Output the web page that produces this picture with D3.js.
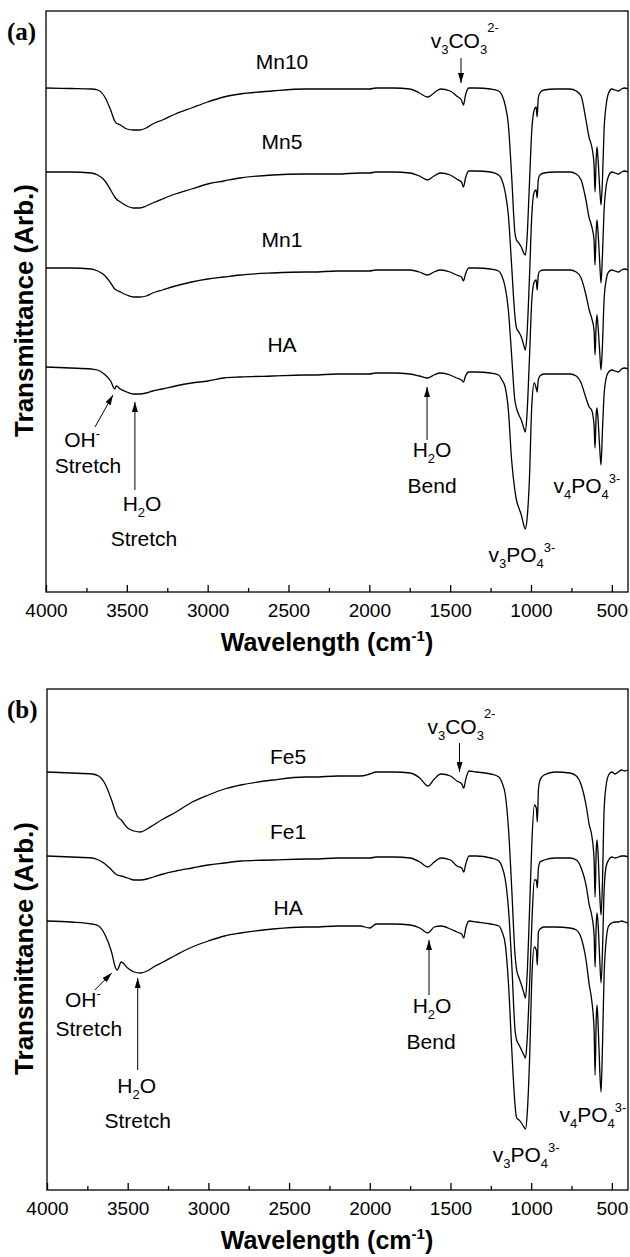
<!DOCTYPE html>
<html>
<head>
<meta charset="utf-8">
<script src="https://cdn.jsdelivr.net/npm/d3@7/dist/d3.min.js"></script>
<style>
  body { margin: 0; background: #fff; }
  text { font-family: "Liberation Sans", Arial, sans-serif; fill: #000; }
</style>
</head>
<body>
<svg id="chart" width="630" height="1257"></svg>
<script>
// shared wavenumber grid (cm-1)
const wavenumbers = [4000, 3850, 3720, 3680, 3640, 3600, 3575, 3565, 3540, 3500,
    3460, 3420, 3380, 3340, 3280, 3200, 3100, 3000, 2900, 2800,
    2600, 2400, 2350, 2200, 2060, 2000, 1960, 1850, 1750, 1690,
    1640, 1600, 1560, 1500, 1460, 1430, 1418, 1405, 1385, 1340,
    1250, 1200, 1180, 1160, 1140, 1120, 1100, 1090, 1075, 1060,
    1045, 1035, 1025, 1010, 995, 980, 968, 962, 955, 945,
    920, 850, 760, 720, 690, 660, 640, 625, 610, 604,
    597, 592, 585, 575, 567, 558, 548, 535, 520, 500,
    480, 460, 440, 420, 400];

// panel (a): offset transmittance, arb. units
const mn10 = [50.4, 50.35, 50.3, 50.2, 49.6, 48.2, 47.1, 46.9, 46.7, 46.3,
    46.2, 46.2, 46.4, 46.8, 47.2, 47.8, 48.4, 49.0, 49.5, 49.8,
    50.1, 50.3, 50.3, 50.3, 50.3, 50.3, 50.4, 50.4, 50.3, 49.9,
    49.5, 49.9, 50.3, 50.1, 49.6, 49.2, 48.7, 49.7, 50.4, 50.4,
    50.3, 50.1, 49.7, 48.7, 46.7, 41.7, 36.0, 35.2, 34.9, 34.5,
    33.9, 33.7, 35.2, 40.7, 46.2, 48.2, 48.5, 47.5, 49.4, 49.9,
    50.2, 50.3, 50.3, 50.1, 49.6, 47.2, 45.4, 44.6, 42.7, 40.0,
    43.2, 44.5, 43.2, 40.4, 38.7, 41.2, 46.2, 48.7, 49.9, 50.3,
    50.2, 50.1, 50.3, 50.4, 50.3];
const mn5 = [42.0, 42.0, 41.9, 41.7, 41.2, 40.2, 39.5, 39.3, 39.0, 38.6,
    38.4, 38.4, 38.6, 38.9, 39.3, 39.8, 40.3, 40.8, 41.1, 41.4,
    41.7, 41.8, 41.8, 41.8, 41.9, 41.9, 42.0, 42.0, 41.9, 41.6,
    41.2, 41.6, 41.9, 41.7, 41.3, 41.0, 40.5, 41.4, 42.1, 42.1,
    42.0, 41.7, 41.2, 40.0, 37.7, 32.7, 27.7, 26.4, 26.0, 25.5,
    24.7, 24.2, 25.7, 31.2, 37.7, 40.0, 40.2, 39.4, 41.2, 41.7,
    41.9, 42.0, 42.0, 41.8, 41.2, 39.2, 37.4, 36.6, 35.2, 32.7,
    36.0, 37.2, 35.9, 33.0, 30.9, 33.7, 38.2, 40.6, 41.6, 42.0,
    41.9, 41.8, 42.0, 42.1, 42.0];
const mn1 = [32.4, 32.4, 32.3, 32.1, 31.7, 30.9, 30.3, 30.2, 30.0, 29.7,
    29.5, 29.5, 29.6, 29.9, 30.2, 30.6, 31.0, 31.3, 31.5, 31.7,
    31.9, 32.0, 32.0, 32.1, 32.1, 32.1, 32.2, 32.2, 32.2, 32.0,
    31.7, 32.0, 32.2, 32.0, 31.7, 31.5, 31.1, 31.8, 32.4, 32.4,
    32.3, 32.1, 31.6, 30.5, 28.2, 23.7, 19.2, 18.4, 17.7, 17.2,
    16.4, 16.0, 17.7, 23.2, 29.2, 31.0, 31.2, 30.2, 31.7, 32.1,
    32.2, 32.2, 32.2, 32.0, 31.4, 29.7, 28.2, 27.4, 26.2, 23.7,
    26.7, 27.7, 26.5, 24.0, 22.2, 24.7, 29.2, 31.2, 32.0, 32.2,
    32.1, 32.0, 32.2, 32.3, 32.2];
const haA = [22.5, 22.4, 22.3, 22.2, 21.8, 21.1, 20.3, 20.6, 20.3, 20.0,
    19.8, 19.8, 19.9, 20.1, 20.3, 20.6, 20.9, 21.1, 21.4, 21.5,
    21.6, 21.7, 21.7, 21.8, 21.8, 21.8, 21.9, 21.9, 21.8, 21.6,
    21.4, 21.7, 21.9, 21.7, 21.4, 21.2, 21.0, 21.6, 22.0, 22.0,
    21.9, 21.7, 21.2, 20.5, 18.2, 13.2, 10.2, 9.2, 8.4, 7.7,
    6.7, 6.3, 7.2, 11.2, 18.7, 20.9, 20.4, 20.0, 21.2, 21.6,
    21.8, 21.8, 21.8, 21.6, 20.9, 19.4, 18.5, 18.2, 16.7, 14.4,
    17.7, 18.4, 17.2, 14.4, 12.7, 16.2, 19.7, 21.4, 22.0, 22.2,
    22.1, 22.0, 22.3, 22.4, 22.3];

// panel (b)
const fe5 = [41.8, 41.7, 41.6, 41.4, 40.6, 39.0, 37.8, 37.4, 37.0, 36.2,
    35.9, 35.8, 36.1, 36.5, 37.1, 37.8, 38.8, 39.5, 40.1, 40.5,
    41.0, 41.3, 41.3, 41.4, 41.4, 41.6, 41.8, 41.8, 41.7, 41.2,
    40.4, 41.1, 41.6, 41.4, 40.9, 40.6, 40.2, 41.1, 41.9, 41.8,
    41.6, 41.3, 40.7, 39.5, 36.0, 30.0, 23.5, 22.0, 21.2, 20.5,
    19.7, 19.2, 21.5, 28.0, 35.0, 38.5, 38.2, 36.8, 40.0, 41.0,
    41.5, 41.8, 41.7, 41.4, 40.5, 38.5, 36.5, 35.5, 33.0, 29.3,
    34.0, 35.0, 33.5, 29.5, 27.5, 31.0, 38.0, 40.5, 41.5, 41.8,
    41.6, 41.8, 42.0, 41.9, 42.0];
const fe1 = [33.4, 33.3, 33.2, 33.0, 32.6, 32.0, 31.6, 31.5, 31.4, 31.2,
    31.0, 31.0, 31.1, 31.3, 31.6, 31.9, 32.2, 32.5, 32.7, 32.9,
    33.0, 33.1, 33.1, 33.2, 33.2, 33.2, 33.3, 33.3, 33.2, 32.8,
    32.3, 32.8, 33.2, 33.0, 32.4, 32.2, 31.8, 32.6, 33.4, 33.4,
    33.2, 32.9, 32.3, 31.0, 28.0, 22.5, 16.0, 15.0, 14.5, 14.0,
    13.5, 13.2, 15.0, 20.5, 27.0, 31.0, 31.0, 30.2, 32.2, 32.8,
    33.0, 33.2, 33.2, 33.0, 32.2, 30.5, 28.5, 27.5, 25.5, 22.3,
    26.5, 27.7, 26.5, 23.0, 20.7, 24.0, 30.0, 32.4, 33.0, 33.3,
    33.2, 33.3, 33.4, 33.4, 33.3];
const haB = [26.9, 26.8, 26.6, 26.4, 25.5, 23.8, 22.2, 22.0, 22.8, 22.2,
    21.8, 21.7, 21.9, 22.3, 22.8, 23.5, 24.3, 24.9, 25.4, 25.7,
    26.1, 26.3, 26.3, 26.4, 26.4, 26.2, 26.6, 26.6, 26.5, 26.2,
    25.7, 26.3, 26.4, 26.1, 25.8, 25.6, 25.2, 26.2, 26.9, 26.8,
    26.6, 26.4, 25.8, 24.5, 20.5, 14.0, 8.5, 7.2, 7.0, 6.7,
    6.3, 6.1, 7.5, 13.0, 21.5, 24.3, 24.0, 22.5, 25.8, 26.1,
    26.3, 26.3, 26.2, 26.0, 25.2, 23.0, 20.5, 19.0, 16.0, 11.5,
    17.0, 18.5, 16.5, 12.0, 9.8, 14.5, 21.5, 25.0, 26.4, 26.7,
    26.8, 26.8, 26.9, 26.8, 26.7];

const xTicks = [4000, 3500, 3000, 2500, 2000, 1500, 1000, 500];
const xMinorTicks = [3750, 3250, 2750, 2250, 1750, 1250, 750];
const seriesNamesA = ['Mn10', 'Mn5', 'Mn1', 'HA'];
const seriesNamesB = ['Fe5', 'Fe1', 'HA'];

const svg = d3.select('#chart');

svg.append('defs').append('marker')
    .attr('id', 'arrow')
    .attr('viewBox', '0 0 10 6')
    .attr('refX', 10).attr('refY', 3)
    .attr('markerWidth', 10).attr('markerHeight', 6)
    .attr('markerUnits', 'userSpaceOnUse')
    .attr('orient', 'auto')
    .append('path')
    .attr('d', 'M0,0 L10,3 L0,6 Z')
    .attr('fill', '#000');

// text with sub/superscripts: parts = [[str, 'sub'|'sup'|undefined, shift], ...]
function richText(g, x, y, parts, size) {
    const t = g.append('text')
        .attr('x', x).attr('y', y)
        .attr('text-anchor', 'middle')
        .style('font-size', size + 'px');
    let shift = 0;
    parts.forEach(([s, kind, off]) => {
        let target = 0;
        if (kind === 'sub') target = off || 6;
        if (kind === 'sup') target = -(off || 10);
        t.append('tspan')
            .attr('dy', target - shift)
            .style('font-size', kind ? Math.round(size * 0.62) + 'px' : null)
            .text(s);
        shift = target;
    });
    return t;
}

const panels = [
    {
        tag: '(a)', top: 11, bottom: 592, left: 46, right: 628, yMax: 58.1,
        series: [mn10, mn5, mn1, haA], names: seriesNamesA,
        nameX: 2540, nameY: [53.0, 45.0, 35.2, 24.7],
        annot: {
            co3: [1410, 54.4], co3Arrow: [1433, 53.4, 50.9],
            oh: [3777, 14.5], ohStretch: [3740, 11.9], ohArrow: [3697, 16.5, 3586, 19.7],
            h2o: [3406, 8.1], h2oStretch: [3394, 4.6], h2oArrow: [3450, 10.2, 19.0],
            bend: [1612, 13.5], bendWord: [1612, 9.9], bendArrow: [1643, 15.2, 20.5],
            v4: [654, 9.9], v3: [1056, 3.0]
        }
    },
    {
        tag: '(b)', top: 689, bottom: 1190, left: 47, right: 628, yMax: 50.1,
        series: [fe5, fe1, haB], names: seriesNamesB,
        nameX: 2506, nameY: [43.3, 35.8, 28.2],
        annot: {
            co3: [1432, 45.6], co3Arrow: [1444, 44.7, 41.8],
            oh: [3778, 18.3], ohStretch: [3741, 15.4], ohArrow: [3704, 20.0, 3599, 21.7],
            h2o: [3444, 9.7], h2oStretch: [3438, 6.2], h2oArrow: [3438, 12.0, 21.2],
            bend: [1614, 17.7], bendWord: [1620, 14.1], bendArrow: [1633, 19.5, 25.0],
            v4: [617, 6.8], v3: [1031, 2.8]
        }
    }
];

panels.forEach(drawPanel);

function drawPanel(p) {
    const g = svg.append('g');
    const x = d3.scaleLinear().domain([4000, 400]).range([p.left, p.right]);
    const y = d3.scaleLinear().domain([0, p.yMax]).range([p.bottom, p.top]);

    const line = d3.line()
        .curve(d3.curveMonotoneX)
        .x((d, i) => x(wavenumbers[i]))
        .y((d) => y(d));

    g.selectAll('.spectrum')
        .data(p.series)
        .enter()
        .append('path')
        .attr('class', 'spectrum')
        .attr('d', (d) => line(d))
        .attr('fill', 'none')
        .attr('stroke', '#000')
        .attr('stroke-width', 1.3)
        .attr('stroke-linejoin', 'round');

    // frame
    g.append('rect')
        .attr('x', p.left).attr('y', p.top)
        .attr('width', p.right - p.left).attr('height', p.bottom - p.top)
        .attr('fill', 'none').attr('stroke', '#000').attr('stroke-width', 1.3);

    // bottom axis, ticks pointing inside
    const axis = g.append('g')
        .attr('transform', 'translate(0,' + p.bottom + ')')
        .call(d3.axisBottom(x).tickValues(xTicks).tickFormat(d3.format('d'))
            .tickSizeInner(-7).tickSizeOuter(0).tickPadding(12));
    axis.select('.domain').remove();
    axis.selectAll('line').attr('stroke-width', 1.3);
    axis.selectAll('text')
        .style('font-family', '"Liberation Sans", Arial, sans-serif')
        .style('font-size', '19px');

    const minor = g.append('g')
        .attr('transform', 'translate(0,' + p.bottom + ')')
        .call(d3.axisBottom(x).tickValues(xMinorTicks).tickSize(-4).tickFormat(''));
    minor.select('.domain').remove();
    minor.selectAll('line').attr('stroke-width', 1.3);

    // axis titles
    const xt = g.append('text')
        .attr('x', 327).attr('y', p.bottom + 59)
        .attr('text-anchor', 'middle')
        .style('font-size', '25px').style('font-weight', 'bold');
    xt.append('tspan').text('Wavelength (cm');
    xt.append('tspan').attr('dy', -10).style('font-size', '15px').text('-1');
    xt.append('tspan').attr('dy', 10).text(')');

    g.append('text')
        .attr('transform', 'translate(33,' + ((p.top + p.bottom) / 2 + 9) + ') rotate(-90)')
        .attr('text-anchor', 'middle')
        .style('font-size', '26px').style('font-weight', 'bold')
        .text('Transmittance (Arb.)');

    g.append('text')
        .attr('x', 7).attr('y', p.top + 29)
        .style('font-family', '"Liberation Serif", "Times New Roman", serif')
        .style('font-size', '25px').style('font-weight', 'bold')
        .text(p.tag);

    // series names
    g.selectAll('.name')
        .data(p.names)
        .enter()
        .append('text')
        .attr('class', 'name')
        .attr('x', x(p.nameX))
        .attr('y', (d, i) => y(p.nameY[i]) + 7)
        .attr('text-anchor', 'middle')
        .style('font-size', '21px')
        .text((d) => d);

    // band annotations
    const a = p.annot;
    const arrow = (x1, y1, x2, y2) => g.append('line')
        .attr('x1', x1).attr('y1', y1).attr('x2', x2).attr('y2', y2)
        .attr('stroke', '#000').attr('stroke-width', 1)
        .attr('marker-end', 'url(#arrow)');

    richText(g, x(a.co3[0]), y(a.co3[1]), [['v'], ['3', 'sub'], ['CO'], ['3', 'sub'], ['2-', 'sup', 16]], 21);
    arrow(x(a.co3Arrow[0]), y(a.co3Arrow[1]), x(a.co3Arrow[0]), y(a.co3Arrow[2]));

    richText(g, x(a.oh[0]), y(a.oh[1]), [['OH'], ['-', 'sup', 9]], 21);
    richText(g, x(a.ohStretch[0]), y(a.ohStretch[1]), [['Stretch']], 21);
    arrow(x(a.ohArrow[0]), y(a.ohArrow[1]), x(a.ohArrow[2]), y(a.ohArrow[3]));

    richText(g, x(a.h2o[0]), y(a.h2o[1]), [['H'], ['2', 'sub'], ['O']], 21);
    richText(g, x(a.h2oStretch[0]), y(a.h2oStretch[1]), [['Stretch']], 21);
    arrow(x(a.h2oArrow[0]), y(a.h2oArrow[1]), x(a.h2oArrow[0]), y(a.h2oArrow[2]));

    richText(g, x(a.bend[0]), y(a.bend[1]), [['H'], ['2', 'sub'], ['O']], 21);
    richText(g, x(a.bendWord[0]), y(a.bendWord[1]), [['Bend']], 21);
    arrow(x(a.bendArrow[0]), y(a.bendArrow[1]), x(a.bendArrow[0]), y(a.bendArrow[2]));

    richText(g, x(a.v4[0]), y(a.v4[1]), [['v'], ['4', 'sub'], ['PO'], ['4', 'sub'], ['3-', 'sup', 10]], 21);
    richText(g, x(a.v3[0]), y(a.v3[1]), [['v'], ['3', 'sub'], ['PO'], ['4', 'sub'], ['3-', 'sup', 10]], 21);
}
</script>
</body>
</html>
